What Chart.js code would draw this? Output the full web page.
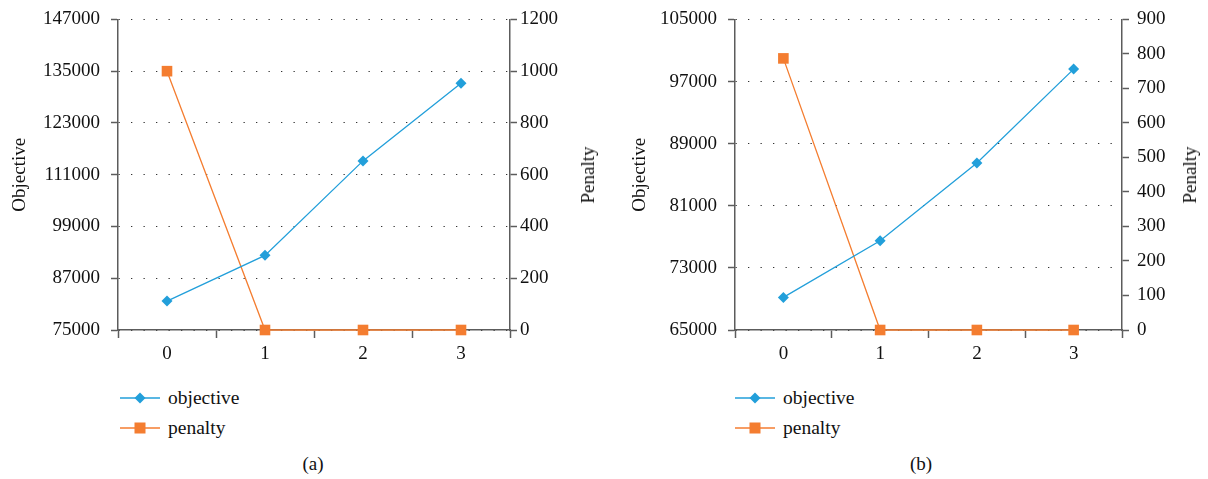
<!DOCTYPE html>
<html>
<head>
<meta charset="utf-8">
<script src="https://cdn.jsdelivr.net/npm/chart.js@4"></script>
<style>
  body { margin: 0; background: #fff; width: 1208px; height: 479px; position: relative; overflow: hidden; font-family: "Liberation Serif", "DejaVu Serif", serif; color: #111; }
  .box { position: absolute; top: -3px; width: 604px; height: 378px; }
  .legend { position: absolute; font-size: 19.5px; line-height: 30px; }
  .legend div { display: flex; align-items: center; height: 30px; }
  .legend svg { margin-right: 6px; }
  .ytitle { position: absolute; font-size: 19px; transform: translate(-50%, -50%) rotate(-90deg); white-space: nowrap; }
  .cap { position: absolute; top: 453px; font-size: 19px; transform: translateX(-50%); }
</style>
</head>
<body>
<div class="box" style="left:0"><canvas id="chartA"></canvas></div>
<div class="box" style="left:604px"><canvas id="chartB"></canvas></div>

<div class="ytitle" style="left:588px; top:175px">Penalty</div>
<div class="ytitle" style="left:1190px; top:175px">Penalty</div>

<div class="legend" id="legA" style="left:120px; top:383px"></div>
<div class="legend" id="legB" style="left:735px; top:383px"></div>

<div class="cap" style="left:313px">(a)</div>
<div class="cap" style="left:921px">(b)</div>

<script>
// カテゴリ（反復回数）
const categories = ['0', '1', '2', '3'];

// (a) の値
const objectiveA = [81700, 92300, 114200, 132200];
const penaltyA = [1000, 0, 0, 0];
const objTicksA = { min: 75000, max: 147000, step: 12000 };
const penTicksA = { min: 0, max: 1200, step: 200 };

// (b) の値
const objectiveB = [69200, 76500, 86500, 98600];
const penaltyB = [787, 0, 0, 0];
const objTicksB = { min: 65000, max: 105000, step: 8000 };
const penTicksB = { min: 0, max: 900, step: 100 };

const blue = '#229fda';
const orange = '#f47d30';
const axisColor = '#5c5c5c';
const font = { family: '"Liberation Serif", "DejaVu Serif", serif', size: 19 };

function makeChart(id, objective, penalty, objTicks, penTicks, opt) {
    const ctx = document.getElementById(id).getContext('2d');
    return new Chart(ctx, {
        type: 'line',
        data: {
            labels: categories,
            datasets: [{
                label: 'objective',
                data: objective,
                yAxisID: 'y',
                borderColor: blue,
                backgroundColor: blue,
                borderWidth: 1.3,
                pointStyle: 'rectRot',
                pointRadius: 5.5,
                pointBorderWidth: 0,
                clip: false
            }, {
                label: 'penalty',
                data: penalty,
                yAxisID: 'y1',
                borderColor: orange,
                backgroundColor: orange,
                borderWidth: 1.3,
                pointStyle: 'rect',
                pointRadius: 7.5,
                pointBorderWidth: 0,
                clip: false
            }]
        },
        options: {
            responsive: true,
            maintainAspectRatio: false,
            animation: false,
            layout: { padding: { top: 15, left: 0, right: 0, bottom: 0 } },
            plugins: { legend: { display: false }, tooltip: { enabled: false } },
            scales: {
                x: {
                    offset: true,
                    grid: { offset: true, drawOnChartArea: false, tickLength: 8, tickColor: axisColor, tickWidth: 1.5 },
                    border: { color: axisColor, width: 1.5 },
                    ticks: { color: '#111', font: font, padding: 5 },
                    afterFit: s => { s.height = 45; }
                },
                y: {
                    position: 'left',
                    min: objTicks.min, max: objTicks.max,
                    grid: { color: '#333', lineWidth: 1, tickLength: 7, tickColor: axisColor, tickWidth: 1.5, tickBorderDash: [] },
                    border: { color: axisColor, width: 1.5, dash: [1.3, 11.2] },
                    ticks: { stepSize: objTicks.step, color: '#111', font: font, padding: 11, callback: v => String(v) },
                    title: { display: true, text: 'Objective', color: '#111', font: font, padding: { top: opt.titlePad, bottom: 0 } },
                    afterFit: s => { s.width = opt.leftWidth; }
                },
                y1: {
                    position: 'right',
                    min: penTicks.min, max: penTicks.max,
                    grid: { drawOnChartArea: false, tickLength: 7, tickColor: axisColor, tickWidth: 1.5 },
                    border: { color: axisColor, width: 1.5 },
                    ticks: { stepSize: penTicks.step, color: '#111', font: font, padding: opt.rightPad, callback: v => String(v) },
                    afterFit: s => { s.width = opt.rightWidth; }
                }
            }
        }
    });
}

makeChart('chartA', objectiveA, penaltyA, objTicksA, penTicksA, { leftWidth: 118, rightWidth: 94, titlePad: 9, rightPad: 3 });
makeChart('chartB', objectiveB, penaltyB, objTicksB, penTicksB, { leftWidth: 131, rightWidth: 86, titlePad: 25, rightPad: 8 });

// 凡例（線＋マーカー）
function legendRow(label, color, marker) {
    const m = marker === 'diamond'
        ? '<polygon points="20,1.5 25.5,7 20,12.5 14.5,7" fill="' + color + '"/>'
        : '<rect x="14.5" y="1.5" width="11" height="11" fill="' + color + '"/>';
    return '<div><svg width="42" height="14"><line x1="0" y1="7" x2="40" y2="7" stroke="' + color + '" stroke-width="1.3"/>' + m + '</svg><span>' + label + '</span></div>';
}
['legA', 'legB'].forEach(id => {
    document.getElementById(id).innerHTML = legendRow('objective', blue, 'diamond') + legendRow('penalty', orange, 'square');
});
</script>
</body>
</html>
